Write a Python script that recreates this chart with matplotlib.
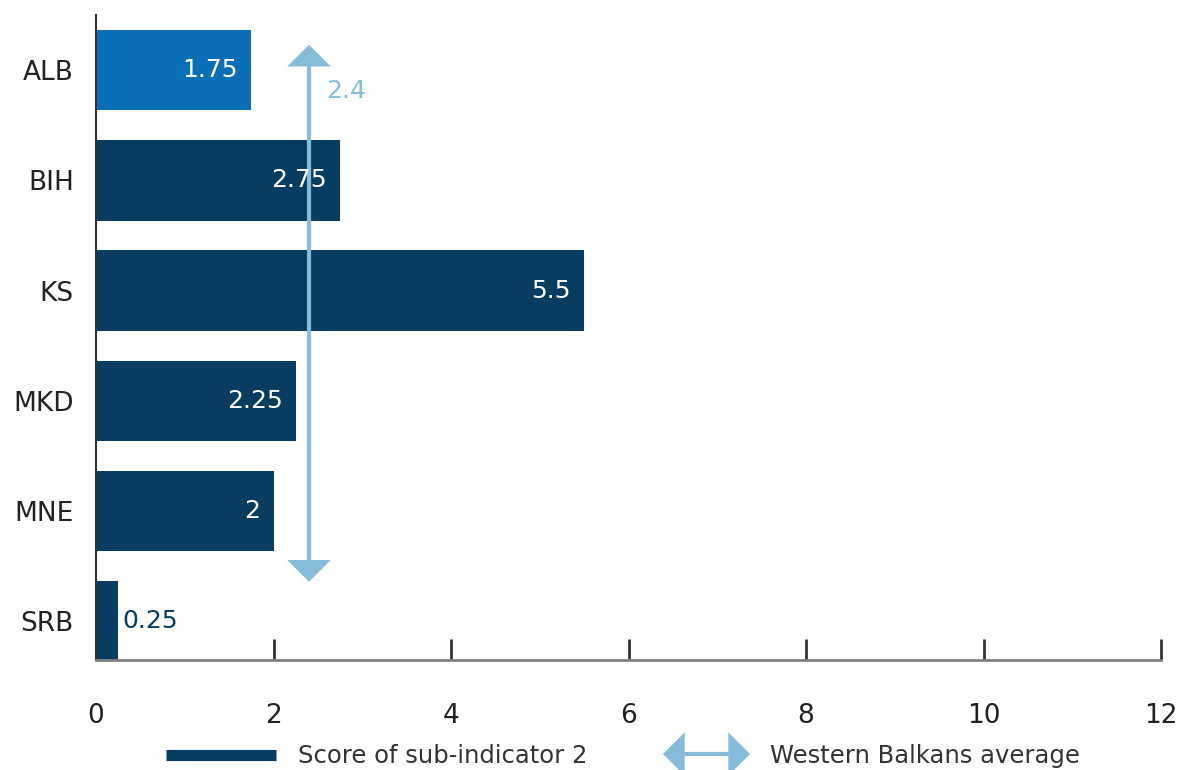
import matplotlib.pyplot as plt
from matplotlib.patches import FancyArrowPatch
from matplotlib.lines import Line2D

# Sub-indicator 2 scores by economy
countries = ['ALB', 'BIH', 'KS', 'MKD', 'MNE', 'SRB']
scores = [1.75, 2.75, 5.5, 2.25, 2, 0.25]
wb_average = 2.4
x_ticks = [0, 2, 4, 6, 8, 10, 12]

dark_blue = '#083d61'
bright_blue = '#0b6fb8'
light_blue = '#84bcd9'
bar_colors = [bright_blue] + [dark_blue] * (len(countries) - 1)
arrow_style = '<|-|>,head_length=0.8,head_width=0.8'

plt.rcParams['font.family'] = ['DejaVu Sans']

fig = plt.figure(figsize=(11.77, 7.7), dpi=100)
ax = fig.add_axes([0.0816, 0.1429, 0.9048, 0.8376])

ypos = list(range(len(countries)))
ax.barh(ypos, scores, height=0.73, color=bar_colors)

# Value labels: inside the bar, or just outside when the bar is too short
for y, v in zip(ypos, scores):
    label = f'{v:g}'
    if v >= 1:
        ax.text(v - 0.15, y, label, ha='right', va='center',
                color='white', fontsize=18)
    else:
        ax.text(v + 0.05, y, label, ha='left', va='center',
                color=dark_blue, fontsize=18)

# Western Balkans average as a double-headed arrow
arrow = FancyArrowPatch((wb_average, -0.23), (wb_average, 4.64),
                        arrowstyle=arrow_style, mutation_scale=15,
                        color=light_blue, lw=3, shrinkA=0, shrinkB=0,
                        joinstyle='miter', capstyle='butt')
ax.add_patch(arrow)
ax.text(wb_average + 0.42, 0.19, f'{wb_average:g}', ha='center', va='center',
        color=light_blue, fontsize=18)

ax.set_xlim(0, 12)
ax.set_ylim(5.35, -0.5)
ax.set_xticks(x_ticks)
ax.set_xticklabels([str(t) for t in x_ticks], fontsize=19, color='#222222')
ax.set_yticks(ypos)
ax.set_yticklabels(countries, fontsize=19, color='#222222')

ax.spines['top'].set_visible(False)
ax.spines['right'].set_visible(False)
ax.spines['bottom'].set_color('#808080')
ax.spines['bottom'].set_linewidth(2)
ax.spines['left'].set_color('#333333')
ax.spines['left'].set_linewidth(1.5)
ax.tick_params(axis='x', direction='in', length=15, width=2,
               color='#333333', pad=31)
ax.tick_params(axis='y', length=0, pad=16)

# Legend drawn below the axis
fig.add_artist(Line2D([166 / 1177, 276 / 1177], [1 - 755 / 770] * 2,
                      color=dark_blue, lw=8, solid_capstyle='butt',
                      transform=fig.transFigure))
fig.text(298 / 1177, 1 - 756 / 770, 'Score of sub-indicator 2',
         fontsize=17.5, color='#333333', va='center')
fig.add_artist(FancyArrowPatch((663 / 1177, 1 - 754 / 770), (750 / 1177, 1 - 754 / 770),
                               arrowstyle=arrow_style, mutation_scale=15,
                               color=light_blue, lw=3, shrinkA=0, shrinkB=0,
                               joinstyle='miter', capstyle='butt',
                               transform=fig.transFigure))
fig.text(770 / 1177, 1 - 756 / 770, 'Western Balkans average',
         fontsize=17.5, color='#333333', va='center')

fig.savefig('out.png', dpi=100)
